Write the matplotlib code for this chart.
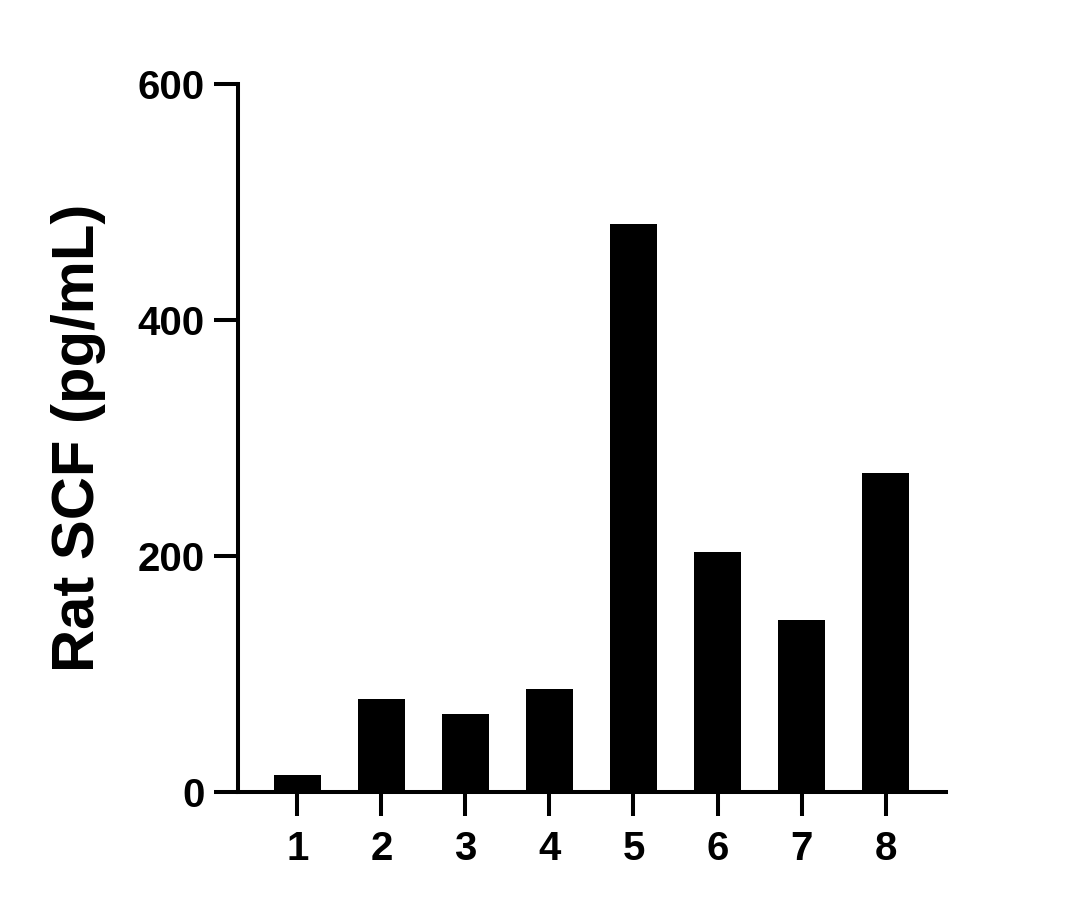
import matplotlib
matplotlib.use("Agg")
import matplotlib.pyplot as plt

categories = ["1", "2", "3", "4", "5", "6", "7", "8"]
values = [14, 79, 66, 87, 481, 203, 146, 270]
yticks = [0, 200, 400, 600]
ylabel = "Rat SCF (pg/mL)"

plt.rcParams['font.family'] = ['Liberation Sans', 'DejaVu Sans']
plt.rcParams['font.weight'] = 'bold'

fig = plt.figure(figsize=(10.84, 9.09), dpi=100)
ax = fig.add_axes([238/1084, 1-792/909, (946-238)/1084, (792-84)/909])

x = list(range(1, len(categories) + 1))
ax.bar(x, values, width=0.56, color='black', edgecolor='none', zorder=1)

ax.set_xlim(0.292, 8.72)
ax.set_ylim(0, 600)
ax.set_xticks(x)
ax.set_xticklabels(categories)
ax.set_yticks(yticks)
ax.set_yticklabels([str(t) for t in yticks])

for s in ['top', 'right']:
    ax.spines[s].set_visible(False)
for s in ['left', 'bottom']:
    ax.spines[s].set_linewidth(2.9)
    ax.spines[s].set_color('black')
    ax.spines[s].set_capstyle('projecting')

ax.tick_params(axis='both', which='major', length=17, width=2.9, color='black',
               labelsize=29, direction='out')
ax.tick_params(axis='y', pad=7)
ax.tick_params(axis='x', pad=10)
for lab in ax.get_xticklabels() + ax.get_yticklabels():
    lab.set_fontweight('bold')

ax.set_ylabel(ylabel, fontsize=43, fontweight='bold')
ax.yaxis.set_label_coords(-0.186, 0.5)

fig.savefig("out.png", dpi=100, facecolor='white')
